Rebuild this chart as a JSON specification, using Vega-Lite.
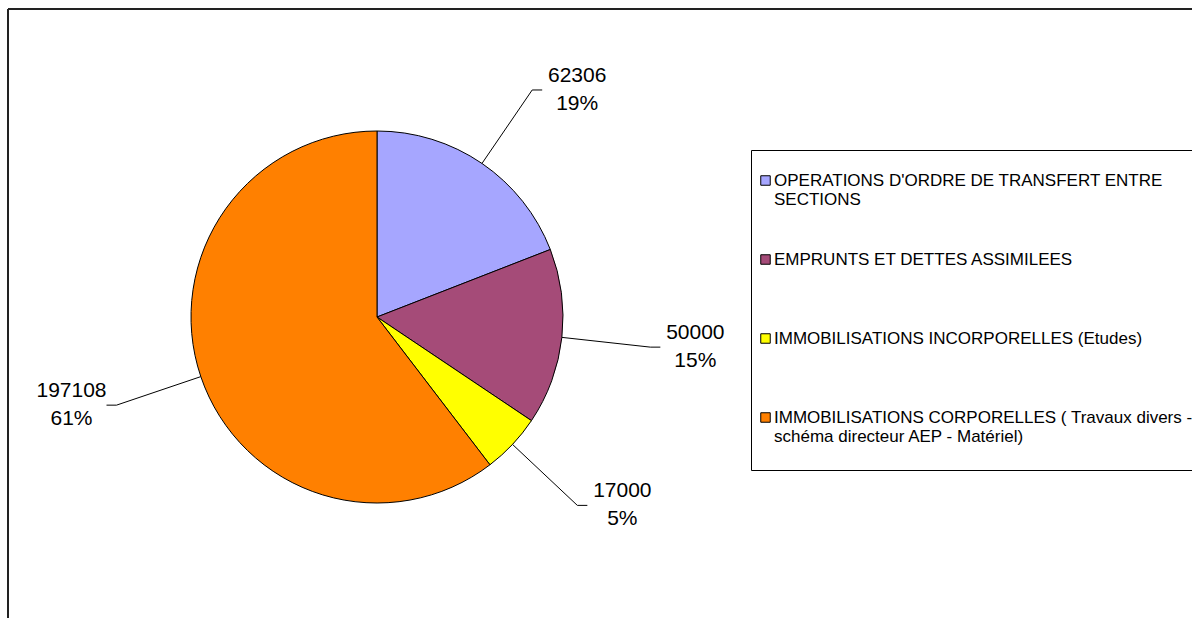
{
  "$schema": "https://vega.github.io/schema/vega-lite/v6.json",
  "width": 1184,
  "height": 609,
  "autosize": {"type": "none"},
  "padding": {"left": 8, "top": 9, "right": 0, "bottom": 0},
  "background": "white",
  "config": {
    "view": {"stroke": null},
    "font": "Liberation Sans",
    "legend": {
      "orient": "none",
      "legendX": 743,
      "legendY": 141,
      "strokeColor": "#000",
      "strokeWidth": 1,
      "padding": 6,
      "symbolType": "square",
      "symbolSize": 90,
      "symbolStrokeColor": "#000",
      "symbolStrokeWidth": 1,
      "labelFont": "Liberation Sans",
      "labelFontSize": 17,
      "labelColor": "#000",
      "labelLimit": 0,
      "labelOffset": 0,
      "rowPadding": 42,
      "titleFontSize": 8,
      "titlePadding": 8
    }
  },
  "data": {
    "values": [
      {"poste": "OPERATIONS D'ORDRE DE TRANSFERT ENTRE SECTIONS", "montant": 62306, "part": "19%"},
      {"poste": "EMPRUNTS ET DETTES ASSIMILEES", "montant": 50000, "part": "15%"},
      {"poste": "IMMOBILISATIONS INCORPORELLES (Etudes)", "montant": 17000, "part": "5%"},
      {"poste": "IMMOBILISATIONS CORPORELLES ( Travaux divers - schéma directeur AEP - Matériel)", "montant": 197108, "part": "61%"}
    ]
  },
  "transform": [
    {"window": [{"op": "row_number", "as": "rang"}, {"op": "sum", "field": "montant", "as": "cumul"}], "frame": [null, 0]},
    {"joinaggregate": [{"op": "sum", "field": "montant", "as": "total"}]},
    {"calculate": "2*PI*(datum.cumul - datum.montant/2)/datum.total", "as": "mid"},
    {"calculate": "sin(datum.mid) >= 0 ? 1 : -1", "as": "cote"},
    {"calculate": "186*sin(datum.mid)", "as": "x0"},
    {"calculate": "186*cos(datum.mid)", "as": "y0"},
    {"calculate": "275*sin(datum.mid)", "as": "x1"},
    {"calculate": "275*cos(datum.mid)", "as": "y1"},
    {"calculate": "datum.x1 + 10*datum.cote", "as": "x2"},
    {"calculate": "datum.x2 + 35*datum.cote", "as": "xl"},
    {"calculate": "datum.montant + '\\n' + datum.part", "as": "etiquette"}
  ],
  "layer": [
    {
      "mark": {"type": "arc", "outerRadius": 186, "stroke": "#000", "strokeWidth": 1},
      "encoding": {
        "theta": {"field": "montant", "type": "quantitative", "stack": true},
        "order": {"field": "rang", "type": "quantitative"},
        "x": {"datum": 0, "type": "quantitative", "scale": {"domain": [-369, 815], "nice": false, "zero": false}, "axis": null},
        "y": {"datum": 0, "type": "quantitative", "scale": {"domain": [-301, 308], "nice": false, "zero": false}, "axis": null},
        "color": {
          "field": "poste",
          "type": "nominal",
          "sort": null,
          "scale": {
            "domain": [
              "OPERATIONS D'ORDRE DE TRANSFERT ENTRE SECTIONS",
              "EMPRUNTS ET DETTES ASSIMILEES",
              "IMMOBILISATIONS INCORPORELLES (Etudes)",
              "IMMOBILISATIONS CORPORELLES ( Travaux divers - schéma directeur AEP - Matériel)"
            ],
            "range": ["#A6A6FF", "#A54B78", "#FFFF00", "#FF8000"]
          },
          "legend": {
            "title": " ",
            "labelExpr": "indexof(datum.label, 'OPERATIONS') == 0 ? [\"OPERATIONS D'ORDRE DE TRANSFERT ENTRE\", 'SECTIONS'] : indexof(datum.label, 'Travaux') > 0 ? ['IMMOBILISATIONS CORPORELLES ( Travaux divers -', 'schéma directeur AEP - Matériel)', ''] : [datum.label, '']"
          }
        }
      }
    },
    {
      "mark": {"type": "rule", "color": "#000", "strokeWidth": 1},
      "encoding": {
        "x": {"field": "x0", "type": "quantitative"},
        "y": {"field": "y0", "type": "quantitative"},
        "x2": {"field": "x1"},
        "y2": {"field": "y1"}
      }
    },
    {
      "mark": {"type": "rule", "color": "#000", "strokeWidth": 1},
      "encoding": {
        "x": {"field": "x1", "type": "quantitative"},
        "y": {"field": "y1", "type": "quantitative"},
        "x2": {"field": "x2"},
        "y2": {"field": "y1"}
      }
    },
    {
      "mark": {"type": "text", "fontSize": 21, "lineHeight": 28, "lineBreak": "\n", "align": "center", "baseline": "middle", "dy": -14, "color": "#000"},
      "encoding": {
        "x": {"field": "xl", "type": "quantitative"},
        "y": {"field": "y1", "type": "quantitative"},
        "text": {"field": "etiquette", "type": "nominal"}
      }
    },
    {
      "mark": {"type": "rule", "color": "#222", "strokeWidth": 1.5},
      "encoding": {"x": {"datum": -369, "type": "quantitative"}}
    },
    {
      "mark": {"type": "rule", "color": "#222", "strokeWidth": 1.5},
      "encoding": {"y": {"datum": 308, "type": "quantitative"}}
    }
  ]
}
